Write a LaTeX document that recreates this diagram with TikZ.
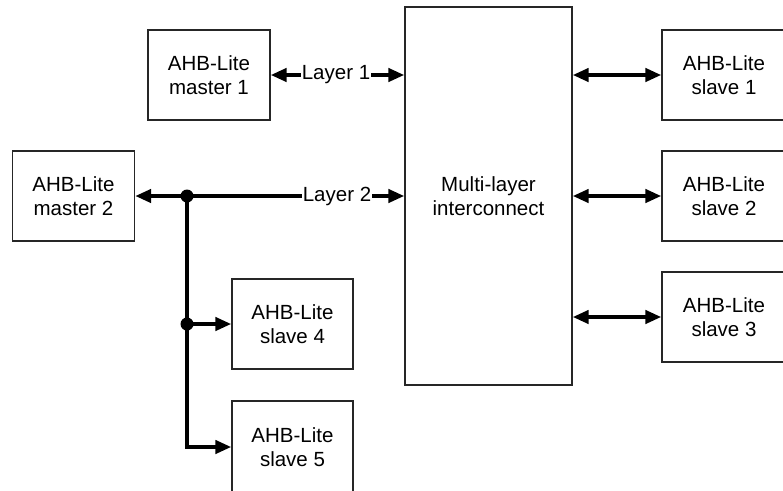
\documentclass[tikz,border=0pt]{standalone}
\usepackage{fontspec}
\setmainfont{Liberation Sans}
\usetikzlibrary{arrows.meta}
\tikzset{
  blk/.style={draw=black!85, line width=1.2pt, fill=white, rectangle, align=center,
    inner sep=0pt, minimum width=122pt, minimum height=90pt,
    font=\fontsize{20.5}{23.5}\selectfont},
  lbl/.style={inner xsep=1pt, inner ysep=0pt, font=\fontsize{20.5}{23.5}\selectfont},
  bus/.style={line width=4pt},
  tip/.style={-{Triangle[length=16pt,width=13pt]}},
  dot/.style={circle, fill=black, inner sep=0pt, minimum size=13pt}
}
\begin{document}
\begin{tikzpicture}[x=1pt,y=-1pt]
\useasboundingbox (0,0) rectangle (783,490);
\clip (0,0) rectangle (783,490);
% boxes
\node[blk] (m1) at (209,75) {AHB-Lite\\master 1};
\node[blk] (m2) at (73.5,196) {AHB-Lite\\master 2};
\node[blk, minimum width=167pt, minimum height=378pt] (ic) at (488.5,196) {Multi-layer\\interconnect};
\node[blk, minimum width=124pt] (s1) at (724,75) {AHB-Lite\\slave 1};
\node[blk, minimum width=124pt] (s2) at (724,196) {AHB-Lite\\slave 2};
\node[blk, minimum width=124pt] (s3) at (724,317) {AHB-Lite\\slave 3};
\node[blk, minimum width=121pt] (s4) at (292.5,324) {AHB-Lite\\slave 4};
\node[blk, minimum width=121pt, minimum height=92pt] (s5) at (292.5,447) {AHB-Lite\\slave 5};
% layer labels
\node[lbl] (l1) at (336,75) {Layer 1};
\node[lbl] (l2) at (337,196) {Layer 2};
% junctions
\node[dot] (j1) at (187,196) {};
\node[dot] (j2) at (187,324) {};
\coordinate (c5) at (187,447);
% layer 1
\draw[bus, tip] (l1.west) -- (m1.east);
\draw[bus, tip] (l1.east) -- (ic.west |- l1.east);
% layer 2
\draw[bus, tip] (j1.center) -- (m2.east);
\draw[bus] (j1.center) -- (l2.west);
\draw[bus, tip] (l2.east) -- (ic.west |- l2.east);
\draw[bus] (j1.center) -- (j2.center);
\draw[bus, tip] (j2.center) -- (s4.west);
\draw[bus, tip] (j2.center) -- (c5) -- (s5.west);
% slaves
\draw[bus, {Triangle[length=16pt,width=13pt]}-{Triangle[length=16pt,width=13pt]}] (ic.east |- s1.west) -- (s1.west);
\draw[bus, {Triangle[length=16pt,width=13pt]}-{Triangle[length=16pt,width=13pt]}] (ic.east |- s2.west) -- (s2.west);
\draw[bus, {Triangle[length=16pt,width=13pt]}-{Triangle[length=16pt,width=13pt]}] (ic.east |- s3.west) -- (s3.west);
\end{tikzpicture}
\end{document}
